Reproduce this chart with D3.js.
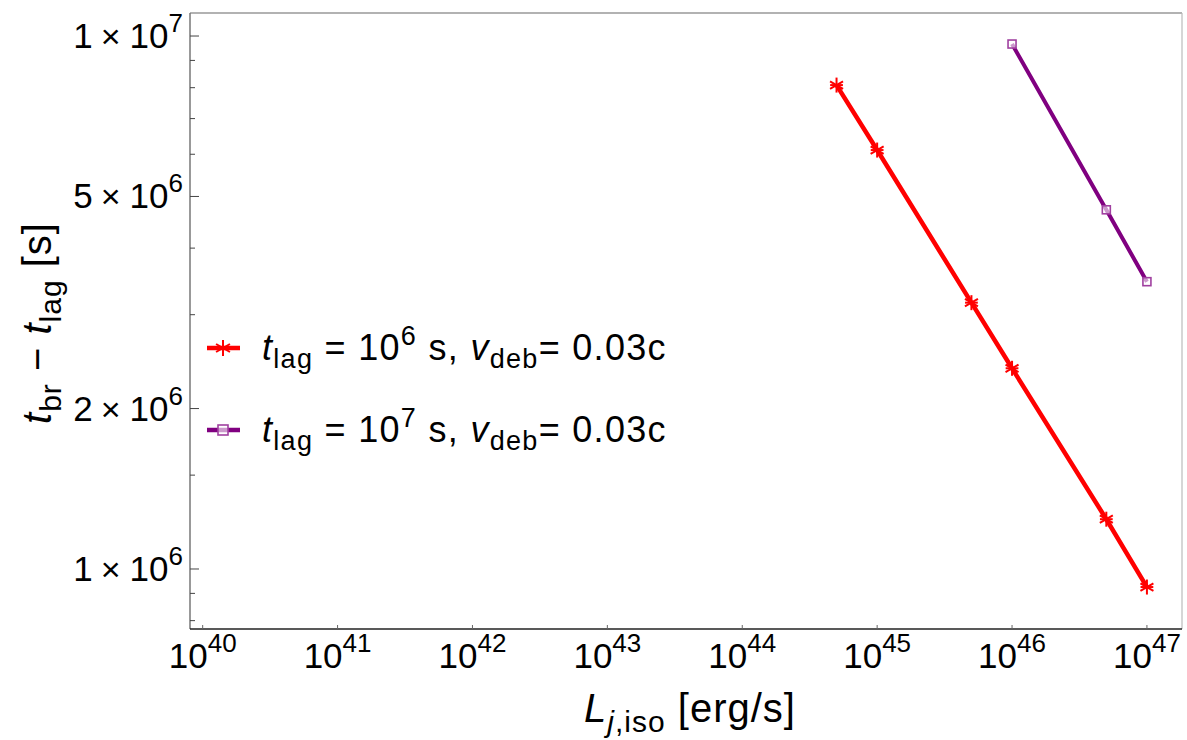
<!DOCTYPE html>
<html><head><meta charset="utf-8">
<script src="https://cdn.jsdelivr.net/npm/d3@7"></script>
<style>
html,body{margin:0;padding:0;background:#fff;}
svg{display:block;font-family:"Liberation Sans",Arial,sans-serif;}
</style></head>
<body><svg id="c" width="1187" height="740"></svg>
<script>
// ---- data ----
const redL   = [5e44, 1e45, 5e45, 1e46, 5e46, 1e47];
const redT   = [8.09e6, 6.11e6, 3.16e6, 2.38e6, 1.24e6, 9.25e5];
const purL   = [1e46, 5e46, 1e47];
const purT   = [9.66e6, 4.72e6, 3.46e6];
const xTickExp = [40, 41, 42, 43, 44, 45, 46, 47];
const yMajorMant = [1, 2, 5, 1];
const yMajorExp  = [6, 6, 6, 7];
const yMinor = [8e5, 9e5, 1.5e6, 3e6, 4e6, 6e6, 7e6, 8e6, 9e6];
const xDomainExp = [39.906, 47.26];
const yDomainExp = [5.8874, 7.0432];

const svg = d3.select("#c");
const L = 190, R = 1182, T = 13, B = 629;
const x = d3.scaleLog().domain(xDomainExp.map(e => Math.pow(10, e))).range([L, R]);
const y = d3.scaleLog().domain(yDomainExp.map(e => Math.pow(10, e))).range([B, T]);

// frame
svg.append("line").attr("x1",L).attr("x2",R).attr("y1",T).attr("y2",T).attr("stroke","#666").attr("stroke-width",1.2);
svg.append("line").attr("x1",R).attr("x2",R).attr("y1",T).attr("y2",B).attr("stroke","#bbb").attr("stroke-width",1.2);
svg.append("line").attr("x1",L).attr("x2",L).attr("y1",T).attr("y2",B).attr("stroke","#777").attr("stroke-width",1.5);
svg.append("line").attr("x1",L).attr("x2",R).attr("y1",B).attr("y2",B).attr("stroke","#222").attr("stroke-width",1.5);

// x ticks
const xt = svg.append("g");
xTickExp.forEach(e => {
  const px = x(Math.pow(10, e));
  xt.append("line").attr("x1",px).attr("x2",px).attr("y1",B).attr("y2",B-4).attr("stroke","#666").attr("stroke-width",1);
  const t = xt.append("text").attr("x",px).attr("y",668).attr("text-anchor","middle").attr("font-size",35).attr("fill","#000");
  t.append("tspan").text("10");
  t.append("tspan").attr("dy",-16).attr("font-size",26).text(e);
});

// y ticks
const yt = svg.append("g");
yMajorMant.forEach((m, i) => {
  const v = m * Math.pow(10, yMajorExp[i]);
  const py = y(v);
  yt.append("line").attr("x1",L).attr("x2",L+9).attr("y1",py).attr("y2",py).attr("stroke","#444").attr("stroke-width",1);
  const t = yt.append("text").attr("x",183).attr("y",py+12).attr("text-anchor","end").attr("font-size",35).attr("fill","#000");
  t.append("tspan").text(m);
  t.append("tspan").attr("font-size",34).attr("dx",8).text("×");
  t.append("tspan").attr("dx",9).text("10");
  t.append("tspan").attr("dy",-16).attr("font-size",26).text(yMajorExp[i]);
});
yMinor.forEach(v => {
  const py = y(v);
  yt.append("line").attr("x1",L).attr("x2",L+5).attr("y1",py).attr("y2",py).attr("stroke","#444").attr("stroke-width",1);
});

// lines
const line = d3.line().x(d => x(d[0])).y(d => y(d[1]));
const redData = redL.map((l,i) => [l, redT[i]]);
const purData = purL.map((l,i) => [l, purT[i]]);
svg.append("path").datum(redData).attr("d", line).attr("fill","none").attr("stroke","#ff0000").attr("stroke-width",4.5);
svg.append("path").datum(purData).attr("d", line).attr("fill","none").attr("stroke","#800080").attr("stroke-width",4);

function star(g, cx, cy, r, color) {
  const gg = g.append("g").attr("transform", `translate(${cx},${cy})`);
  [0, 60, 120].forEach(a => {
    const rad = a * Math.PI / 180 + Math.PI/2;
    gg.append("line").attr("x1", -r*Math.cos(rad)).attr("y1", -r*Math.sin(rad))
      .attr("x2", r*Math.cos(rad)).attr("y2", r*Math.sin(rad))
      .attr("stroke", color).attr("stroke-width", 2);
  });
  gg.append("line").attr("x1",-r*0.85).attr("x2",r*0.85).attr("y1",0).attr("y2",0).attr("stroke",color).attr("stroke-width",2);
}
function square(g, cx, cy, s, color) {
  g.append("rect").attr("x", cx - s/2).attr("y", cy - s/2).attr("width", s).attr("height", s)
    .attr("fill","#fff").attr("fill-opacity",0.6).attr("stroke", color).attr("stroke-width", 1.6);
}
const mk = svg.append("g");
redData.forEach(d => star(mk, x(d[0]), y(d[1]), 7.5, "#ff0000"));
purData.forEach(d => square(mk, x(d[0]), y(d[1]), 8, "#a040a0"));

// legend
const lg = svg.append("g");
const legY = [348, 430];
const legColor = ["#ff0000", "#800080"];
const legExp = ["6", "7"];
legY.forEach((ly, i) => {
  lg.append("line").attr("x1",207).attr("x2",240).attr("y1",ly).attr("y2",ly).attr("stroke",legColor[i]).attr("stroke-width",4.5);
  if (i === 0) star(lg, 223, ly, 8, "#ff0000"); else square(lg, 223, ly, 10, "#a040a0");
  const t = lg.append("text").attr("x",262).attr("y",ly+12).attr("font-size",36).attr("letter-spacing",1.3).attr("fill","#000");
  t.append("tspan").attr("font-style","italic").text("t");
  t.append("tspan").attr("font-size",27).attr("dy",8).text("lag");
  t.append("tspan").attr("dy",-8).text(" = 10");
  t.append("tspan").attr("font-size",27).attr("dy",-15).text(legExp[i]);
  t.append("tspan").attr("dy",15).text(" s, ");
  t.append("tspan").attr("font-style","italic").text("v");
  t.append("tspan").attr("font-size",27).attr("dy",8).text("deb");
  t.append("tspan").attr("dy",-8).text("= 0.03c");
});

// axis labels
const xl = svg.append("text").attr("x",690).attr("y",722).attr("text-anchor","middle").attr("font-size",40).attr("letter-spacing",1).attr("fill","#000");
xl.append("tspan").attr("font-style","italic").text("L");
xl.append("tspan").attr("font-size",30).attr("dy",10).attr("font-style","italic").text("j");
xl.append("tspan").attr("font-size",30).text(",iso");
xl.append("tspan").attr("dy",-10).text(" [erg/s]");

const yl = svg.append("text").attr("transform","translate(51,323) rotate(-90)").attr("text-anchor","middle").attr("font-size",40).attr("letter-spacing",1).attr("fill","#000");
yl.append("tspan").attr("font-style","italic").text("t");
yl.append("tspan").attr("font-size",30).attr("dy",10).text("br");
yl.append("tspan").attr("dy",-10).text(" − ");
yl.append("tspan").attr("font-style","italic").text("t");
yl.append("tspan").attr("font-size",30).attr("dy",10).text("lag");
yl.append("tspan").attr("dy",-10).text(" [s]");
</script></body></html>
